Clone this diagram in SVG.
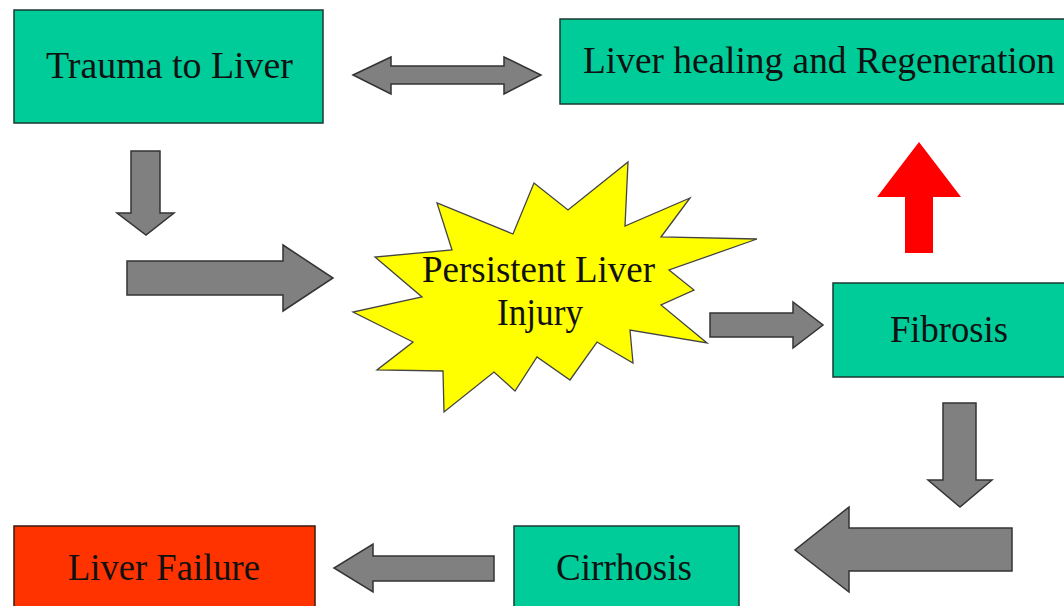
<svg xmlns="http://www.w3.org/2000/svg" width="1064" height="606" viewBox="0 0 1064 606">
<style>
.box{fill:#00CC99;stroke:#1a3a30;stroke-width:1.5}
.fail{fill:#FF3300;stroke:#3a1a10;stroke-width:1.5}
.arr{fill:#808080;stroke:#333;stroke-width:1.5;stroke-linejoin:miter}
.star{fill:#FFFF00;stroke:#444;stroke-width:1.3;stroke-linejoin:miter}
.t{font-family:"Liberation Serif","Times New Roman",serif;font-size:37px;fill:#111}
</style>
<rect width="1064" height="606" fill="#fff"/>
<g id="trauma"><rect class="box" x="14" y="10" width="309" height="113"/><text class="t" x="46" y="78" textLength="247" lengthAdjust="spacingAndGlyphs">Trauma to Liver</text></g>
<g id="healing"><rect class="box" x="560" y="19" width="510" height="85"/><text class="t" x="583" y="73" textLength="472" lengthAdjust="spacingAndGlyphs">Liver healing and Regeneration</text></g>
<g id="injury"><polygon class="star" points="628,162 625,226 690,198 661,237 757,239 669,270 694,290 661,305 707,343 630,330 633,363 597,342 570,380 537,357 515,391 494,372 444,412 443,371 377,370 413,342 353,312 422,297 375,257 452,250 437,203 513,234 534,183 568,210"/><text class="t" x="422" y="282" textLength="233" lengthAdjust="spacingAndGlyphs">Persistent Liver</text><text class="t" x="497" y="325" textLength="86" lengthAdjust="spacingAndGlyphs">Injury</text></g>
<g id="fibrosis"><rect class="box" x="833" y="283" width="240" height="94"/><text class="t" x="890" y="342" textLength="118" lengthAdjust="spacingAndGlyphs">Fibrosis</text></g>
<g id="cirrhosis"><rect class="box" x="514" y="526" width="225" height="90"/><text class="t" x="556" y="580" textLength="136" lengthAdjust="spacingAndGlyphs">Cirrhosis</text></g>
<g id="failure"><rect class="fail" x="14" y="526" width="301" height="90"/><text class="t" x="68" y="580" textLength="192" lengthAdjust="spacingAndGlyphs">Liver Failure</text></g>
<g id="connectors">
<polygon class="arr" points="353,75 391,57 391,66 504,66 504,57 541,75 504,94 504,84 391,84 391,94"/>
<polygon class="arr" points="131,151 160,151 160,213 174,213 146,235 117,213 131,213"/>
<polygon class="arr" points="127,261 283,261 283,245 333,278 283,311 283,295 127,295"/>
<polygon class="arr" points="710,313 793,313 793,302 823,325 793,348 793,337 710,337"/>
<polygon fill="#FF0000" points="919,142 961,197 933,197 933,253 905,253 905,197 877,197"/>
<polygon class="arr" points="943,403 976,403 976,480 992,480 960,507 928,480 943,480"/>
<polygon class="arr" points="1012,528 1012,571 849,571 849,592 795,550 849,507 849,528"/>
<polygon class="arr" points="494,556 494,581 373,581 373,592 334,568 373,544 373,556"/>
</g>
</svg>
